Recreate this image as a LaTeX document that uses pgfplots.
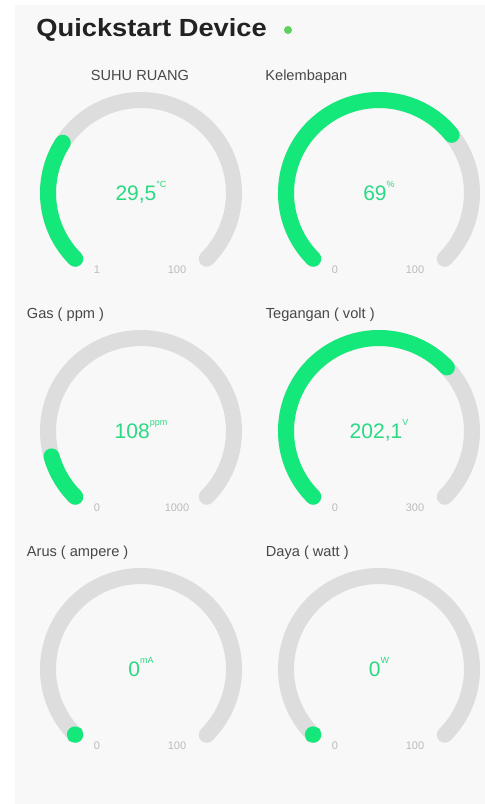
\documentclass[border=0pt]{standalone}
\usepackage{fontspec}
\setmainfont{Liberation Sans}
\usepackage{pgfplots}
\pgfplotsset{compat=1.18}
\definecolor{gaugegreen}{HTML}{14E87A}
\definecolor{track}{HTML}{DDDDDD}
\definecolor{panel}{HTML}{F8F8F8}
\definecolor{valgreen}{HTML}{2BD983}
\definecolor{ticklab}{HTML}{BBBBBB}
\definecolor{labgray}{HTML}{484848}
\definecolor{titlec}{HTML}{222222}
\definecolor{dotgreen}{HTML}{5CD15C}

% #1 cx, #2 cy, #3 min, #4 max, #5 value
\newcommand{\gauge}[5]{%
  \addplot[draw=track, line width=8pt, line cap=round, domain=-45:225, samples=120, variable=\t]
    ({#1+93*cos(\t)}, {#2-93*sin(\t)});
  \addplot[draw=gaugegreen, line width=8pt, line cap=round,
    domain={225-max(0.3,270*(#5-#3)/(#4-#3))}:225, samples=90, variable=\t]
    ({#1+93*cos(\t)}, {#2-93*sin(\t)});
}
\newcommand{\vallabel}[4]{% cx, cy, number, unit
  \node[anchor=base, text=valgreen, inner sep=0pt, font=\fontsize{10.5pt}{12pt}\selectfont]
    at (axis cs:#1,#2+7.5) {#3\raisebox{1.15ex}{\fontsize{4.5pt}{5pt}\selectfont #4}};
}
\newcommand{\ticklabels}[4]{% cx, cy, min, max
  \node[anchor=base, text=ticklab, inner sep=0pt, font=\fontsize{5.5pt}{6pt}\selectfont]
    at (axis cs:#1-44,#2+80) {#3};
  \node[anchor=base, text=ticklab, inner sep=0pt, font=\fontsize{5.5pt}{6pt}\selectfont]
    at (axis cs:#1+36,#2+80) {#4};
}
\begin{document}
\begin{tikzpicture}
\begin{axis}[
  x=0.5pt, y=0.5pt, scale only axis,
  xmin=0, xmax=485, ymin=0, ymax=804, y dir=reverse,
  hide axis, clip=false,
]
\fill[white] (axis cs:0,0) rectangle (axis cs:485,804);
\fill[panel] (axis cs:15,5) rectangle (axis cs:485,804);

% title
\node[anchor=base west, inner sep=0pt, text=titlec, font=\fontsize{12.4pt}{14pt}\selectfont\bfseries]
  at (axis cs:36,36.5) {\scalebox{1.1}[1]{Quickstart Device}};
\fill[dotgreen] (axis cs:288,30) circle[radius=2pt];

% section labels
\node[anchor=base, inner sep=0pt, text=labgray, font=\fontsize{7.3pt}{9pt}\selectfont]
  at (axis cs:140,80.5) {SUHU RUANG};
\node[anchor=base west, inner sep=0pt, text=labgray, font=\fontsize{7.3pt}{9pt}\selectfont]
  at (axis cs:265,80.5) {Kelembapan};
\node[anchor=base west, inner sep=0pt, text=labgray, font=\fontsize{7.3pt}{9pt}\selectfont]
  at (axis cs:26.5,318) {Gas ( ppm )};
\node[anchor=base west, inner sep=0pt, text=labgray, font=\fontsize{7.3pt}{9pt}\selectfont]
  at (axis cs:265.5,318) {Tegangan ( volt )};
\node[anchor=base west, inner sep=0pt, text=labgray, font=\fontsize{7.3pt}{9pt}\selectfont]
  at (axis cs:26.5,556) {Arus ( ampere )};
\node[anchor=base west, inner sep=0pt, text=labgray, font=\fontsize{7.3pt}{9pt}\selectfont]
  at (axis cs:265.5,556) {Daya ( watt )};

% gauges: cx, cy, min, max, value
\gauge{141}{193}{1}{100}{29.5}
\gauge{379}{193}{0}{100}{69}
\gauge{141}{431}{0}{1000}{108}
\gauge{379}{431}{0}{300}{202.1}
\gauge{141}{669}{0}{100}{0}
\gauge{379}{669}{0}{100}{0}

\vallabel{141}{193}{29,5}{°C}
\vallabel{379}{193}{69}{\%}
\vallabel{141}{431}{108}{ppm}
\vallabel{379}{431}{202,1}{V}
\vallabel{141}{669}{0}{mA}
\vallabel{379}{669}{0}{W}

\ticklabels{141}{193}{1}{100}
\ticklabels{379}{193}{0}{100}
\ticklabels{141}{431}{0}{1000}
\ticklabels{379}{431}{0}{300}
\ticklabels{141}{669}{0}{100}
\ticklabels{379}{669}{0}{100}
\end{axis}
\end{tikzpicture}
\end{document}
